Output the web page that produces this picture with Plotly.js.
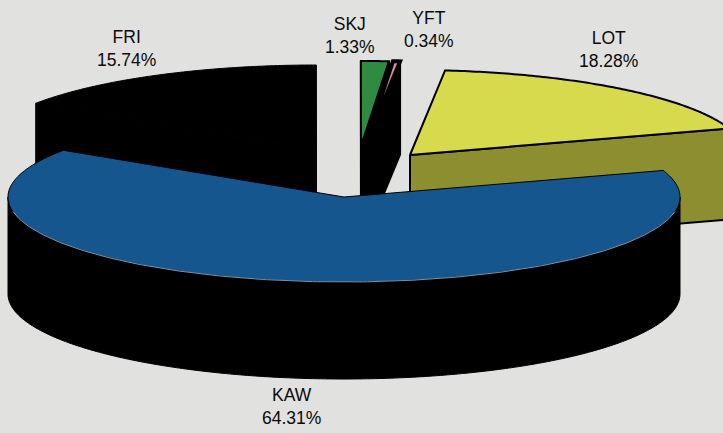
<!DOCTYPE html>
<html><head><meta charset="utf-8">
<script src="https://cdn.plot.ly/plotly-3.0.1.min.js"></script>
<style>html,body{margin:0;padding:0;background:#e1e2df}</style></head>
<body><div id="chart" style="width:723px;height:433px"></div>
<script>
// Data, anticlockwise from the first slice
const categories = ['LOT', 'YFT', 'SKJ', 'FRI', 'KAW'];
const shares = [18.28, 0.34, 1.33, 15.74, 64.31];
// Styles
const topColors = ['#d8da4e', '#d98aa0', '#2f8b42', '#000000', '#15568f'];
const sideColors = ['#8d8e30', '#000000', '#000000', '#000000', '#000000'];
const outlineWidths = [2, 4, 2, 1, 1];
// Projection of the exploded 3-D pie
const startAngle = 18.2, rx = 336, ry = 85;
const centers = {LOT:[410,155], YFT:[365,146], SKJ:[361,146], FRI:[316.5,150], KAW:[344,197]};
const depths = {LOT:91, YFT:93, SKJ:93, FRI:93, KAW:97};
const labelPos = {LOT:[608,49], YFT:[429,29], SKJ:[350,35], FRI:[126,48], KAW:[291,406]};
const drawOrder = ['FRI', 'SKJ', 'YFT', 'LOT', 'KAW'];

const total = shares.reduce((a, b) => a + b, 0);
let running = startAngle;
const wedges = {};
categories.forEach((c, i) => {
  const sweep = shares[i] / total * 360;
  wedges[c] = {a0: running, a1: running + sweep, i};
  running += sweep;
});
function arc(c, drop, from, to) {
  const [cx, cy] = centers[c], pts = [];
  const n = Math.max(2, Math.ceil((to - from) * 1.5));
  for (let k = 0; k <= n; k++) {
    const t = (from + (to - from) * k / n) * Math.PI / 180;
    pts.push([cx + rx * Math.cos(t), cy - ry * Math.sin(t) + drop]);
  }
  return pts;
}
function poly(pts, fill, lineColor, width) {
  return {type: 'scatter', mode: 'lines', x: pts.map(p => p[0]).concat(pts[0][0]),
    y: pts.map(p => p[1]).concat(pts[0][1]), fill: 'toself', fillcolor: fill,
    line: {color: lineColor, width: width, simplify: false}, hoverinfo: 'skip', showlegend: false};
}
const sinD = d => Math.sin(d * Math.PI / 180);
const traces = [];
drawOrder.forEach(c => {
  const w = wedges[c], i = w.i, [cx, cy] = centers[c], depth = depths[c];
  const top = arc(c, 0, w.a0, w.a1);
  const side = sideColors[i], lw = Math.min(outlineWidths[i], 2);
  // radial faces that look toward the viewer
  [[w.a0, w.a0 - 90, 0], [w.a1, w.a1 + 90, top.length - 1]].forEach(f => {
    if (sinD(f[1]) < -1e-6) {
      const t = top[f[2]];
      traces.push(poly([[cx, cy], t, [t[0], t[1] + depth], [cx, cy + depth]], side, '#000', lw));
    }
  });
  // outer wall: only the front half of the rim
  const from = Math.max(w.a0, 180), to = Math.min(w.a1, 360);
  if (to > from) {
    const up = arc(c, 0, from, to), low = arc(c, depth, from, to);
    traces.push(poly(up.concat(low.reverse()), side, '#000', lw));
  }
  traces.push(poly([[cx, cy]].concat(top), topColors[i], '#000', outlineWidths[i]));
  if (c === 'KAW') {
    // thin pale rim on the front edge of the blue face
    const rim = arc(c, 0, 190, 350);
    traces.push({type: 'scatter', mode: 'lines', x: rim.map(p => p[0]), y: rim.map(p => p[1]),
      line: {color: '#9fb4c6', width: 0.8}, hoverinfo: 'skip', showlegend: false});
  }
});
const annotations = categories.map((c, i) => ({
  x: labelPos[c][0], y: labelPos[c][1], xref: 'x', yref: 'y', showarrow: false,
  text: c + '<br>' + shares[i].toFixed(2) + '%', align: 'center',
  font: {family: 'Liberation Sans, Arial, sans-serif', size: 17.5, color: '#0a0a0a'}
}));
const hidden = {visible: false, fixedrange: true};
Plotly.newPlot('chart', traces, {
  width: 723, height: 433, margin: {l: 0, r: 0, t: 0, b: 0},
  paper_bgcolor: '#e1e2df', plot_bgcolor: '#e1e2df', showlegend: false,
  xaxis: Object.assign({range: [0, 723]}, hidden),
  yaxis: Object.assign({range: [433, 0]}, hidden),
  annotations
}, {displayModeBar: false, staticPlot: true});
</script></body></html>
